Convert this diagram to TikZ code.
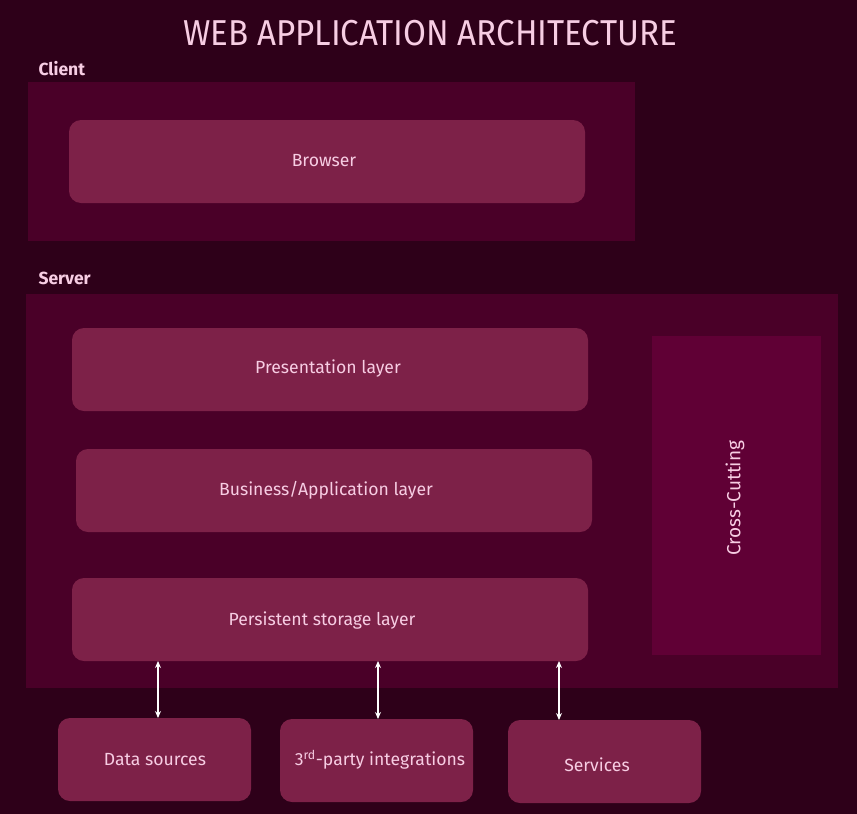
\documentclass[tikz,border=0pt]{standalone}
\usepackage{fontspec}
\setmainfont{Fira Sans}
\usetikzlibrary{arrows.meta}
\definecolor{bgc}{HTML}{2E0019}
\definecolor{panel}{HTML}{4A0028}
\definecolor{boxc}{HTML}{7D2148}
\definecolor{crossc}{HTML}{600035}
\definecolor{txt}{HTML}{F7CDE3}
\tikzset{
  panelbox/.style={fill=panel, draw=none},
  layerbox/.style={fill=boxc, draw=none, rounded corners=12pt},
  lbl/.style={text=txt, font=\fontsize{17.6}{20}\selectfont},
  seclbl/.style={text=txt, font=\fontsize{17.5}{20}\selectfont\bfseries, anchor=west},
  conn/.style={draw=white, line width=1.2pt, {Stealth[length=7pt,width=6pt]}-{Stealth[length=7pt,width=6pt]}}
}
\begin{document}
\begin{tikzpicture}[x=1pt,y=-1pt]
\fill[bgc] (0,0) rectangle (857,814);
\useasboundingbox (0,0) rectangle (857,814);
% title
\node[text=txt, font=\fontsize{36}{40}\selectfont\addfontfeature{FakeStretch=0.92}] (title) at (430,33) {WEB APPLICATION ARCHITECTURE};
% client
\node[seclbl] (clientlbl) at (35,69) {Client};
\fill[panelbox] (28,82) rectangle (635,241);
\path[layerbox] (69,120) rectangle (585,203);
\node[lbl] (browser) at (324,161) {Browser};
% server
\node[seclbl] (serverlbl) at (35,278) {Server};
\fill[panelbox] (26,294) rectangle (838,688);
\path[layerbox] (72,328) rectangle (588,411);
\node[lbl] (pres) at (328,369) {Presentation layer};
\path[layerbox] (76,449) rectangle (592,532);
\node[lbl] (bus) at (326,490) {Business/Application layer};
\path[layerbox] (72,578) rectangle (588,661);
\node[lbl] (pers) at (322,621) {Persistent storage layer};
\coordinate (persB1) at (158,661);
\coordinate (persB2) at (378,661);
\coordinate (persB3) at (559,661);
\fill[crossc] (652,336) rectangle (821,655);
\node[lbl, font=\fontsize{19}{21}\selectfont, rotate=90] (cross) at (735,498) {Cross-Cutting};
% bottom boxes
\path[layerbox] (58,718) rectangle (251,801);
\node[lbl] (ds) at (155,760) {Data sources};
\path[layerbox] (280,719) rectangle (473,802);
\node[lbl] (tp) at (380,760) {3\textsuperscript{rd}-party integrations};
\path[layerbox] (508,720) rectangle (701,803);
\node[lbl] (svc) at (597,765) {Services};
\coordinate (dsT) at (158,718);
\coordinate (tpT) at (378,719);
\coordinate (svcT) at (559,720);
% connectors
\draw[conn] (persB1) -- (dsT);
\draw[conn] (persB2) -- (tpT);
\draw[conn] (persB3) -- (svcT);
\end{tikzpicture}
\end{document}
